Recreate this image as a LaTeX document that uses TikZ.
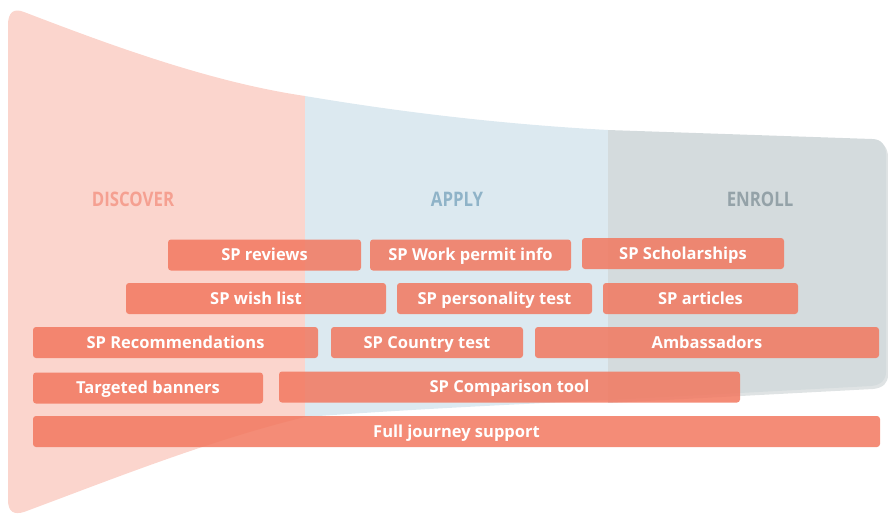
\documentclass[tikz,border=0pt]{standalone}
\usepackage{fontspec}
\setmainfont{Open Sans}
\newfontfamily\condfont[FakeStretch=0.84]{Open Sans}
\definecolor{discover}{HTML}{FBD5CD}
\definecolor{apply}{HTML}{DCE9F0}
\definecolor{enroll}{HTML}{D4DBDD}
\definecolor{enrollShadow}{HTML}{C9D0D2}
\definecolor{bar}{HTML}{F2785F}
\definecolor{discoverText}{HTML}{F5A091}
\definecolor{applyText}{HTML}{8FB3C8}
\definecolor{enrollText}{HTML}{94A2A8}
\tikzset{bar/.style={fill=bar,fill opacity=0.85,text opacity=1,text=white,rounded corners=3pt,minimum height=31pt,inner sep=0pt,text height=11.8pt,text depth=0pt,font=\fontsize{16.5}{16.5}\selectfont\bfseries}}
\tikzset{phase/.style={font=\condfont\fontsize{20}{20}\selectfont\bfseries}}

\begin{document}
\begin{tikzpicture}[x=1pt,y=-1pt]
                \useasboundingbox (0,0) rectangle (888,517);
                % funnel
                \fill[discover] (8,25) .. controls (8,12) and (14,8) .. (24,12)
                    .. controls (110,45) and (210,82) .. (305,96) -- (305,417)
                    .. controls (210,440) and (110,480) .. (24,512)
                    .. controls (14,515) and (8,512) .. (8,500) -- cycle;
                \fill[apply] (305,96) .. controls (400,112) and (500,124) .. (608,130)
                    -- (608,400) .. controls (500,405) and (400,410) .. (305,417) -- cycle;
                \fill[enrollShadow,opacity=0.6] (608,132) -- (873,141) .. controls (883,141) and (888,148) .. (888,157)
                    -- (888,375) .. controls (888,383) and (883,388) .. (873,389) -- (608,403) -- cycle;
                \fill[enroll] (608,130) -- (872,139) .. controls (882,139) and (886,146) .. (886,155)
                    -- (886,372) .. controls (886,380) and (881,385) .. (871,386) -- (608,400) -- cycle;
                % phases
                \node[phase,text=discoverText] (discoverLabel) at (133,199) {DISCOVER};
                \node[phase,text=applyText] (applyLabel) at (457,199) {APPLY};
                \node[phase,text=enrollText] (enrollLabel) at (760,199) {ENROLL};
                % tools
                \node[bar,minimum width=193pt] (reviews) at (264.5,255) {SP reviews};
                \node[bar,minimum width=201pt] (workPermit) at (470.5,255) {SP Work permit info};
                \node[bar,minimum width=202pt] (scholarships) at (683,253.5) {SP Scholarships};
                \node[bar,minimum width=260pt] (wishList) at (256,298.5) {SP wish list};
                \node[bar,minimum width=195pt] (personality) at (494.5,298.5) {SP personality test};
                \node[bar,minimum width=195pt] (articles) at (700.5,298.5) {SP articles};
                \node[bar,minimum width=285pt] (recommendations) at (175.5,342.5) {SP Recommendations};
                \node[bar,minimum width=192pt] (countryTest) at (427,342.5) {SP Country test};
                \node[bar,minimum width=344pt] (ambassadors) at (707,342.5) {Ambassadors};
                \node[bar,minimum width=230pt] (banners) at (148,388) {Targeted banners};
                \node[bar,minimum width=461pt] (comparison) at (509.5,387) {SP Comparison tool};
                \node[bar,minimum width=847pt] (fullJourney) at (456.5,431.5) {Full journey support};
                \end{tikzpicture}
\end{document}
